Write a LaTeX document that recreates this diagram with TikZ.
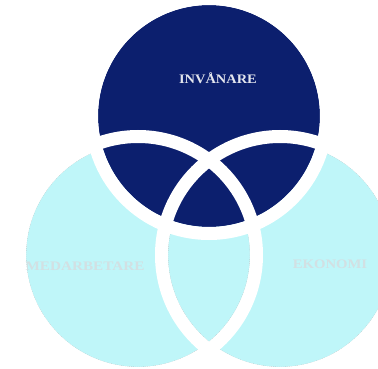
\documentclass[tikz,border=0pt]{standalone}
\usepackage{fontspec}
\setmainfont{Liberation Serif}
\definecolor{navy}{HTML}{0C1F6E}
\definecolor{lcyan}{HTML}{BFF6F9}
\definecolor{lbl}{HTML}{D2E0E3}
\definecolor{toplbl}{HTML}{E4E6EE}
\tikzset{
  lightfill/.style={fill=lcyan},
  darkfill/.style={fill=navy},
  edgeline/.style={draw=gray!70, line width=0.3pt, dash pattern=on 1pt off 1pt},
  gapring/.style={draw=white, line width=13pt},
  lbltext/.style={font=\bfseries\fontsize{13}{13}\selectfont, inner sep=0pt},
}
\begin{document}
\begin{tikzpicture}[x=1pt,y=-1pt]
\useasboundingbox (0,0) rectangle (378,369);
\coordinate (ctop) at (209,116);
\coordinate (cleft) at (138,255);
\coordinate (cright) at (280,255);
\begin{scope}
\clip (0,0) rectangle (378,369);
\fill[lightfill] (cleft) circle[radius=112];
\fill[lightfill] (cright) circle[radius=112];
\draw[edgeline] (cleft) circle[radius=112];
\draw[edgeline] (cright) circle[radius=112];
\fill[darkfill] (ctop) circle[radius=111];
\draw[gapring] (ctop) circle[radius=117.5];
\draw[gapring] (cleft) circle[radius=118.5];
\draw[gapring] (cright) circle[radius=118.5];
\end{scope}
\node[lbltext, text=toplbl] (invanare) at (218,78) {\scalebox{1.11}[1]{INVÅNARE}};
\node[lbltext, text=lbl] (medarbetare) at (85,266) {\scalebox{1.17}[1]{MEDARBETARE}};
\node[lbltext, text=lbl] (ekonomi) at (330,264) {\scalebox{1.13}[1]{EKONOMI}};
\end{tikzpicture}
\end{document}
